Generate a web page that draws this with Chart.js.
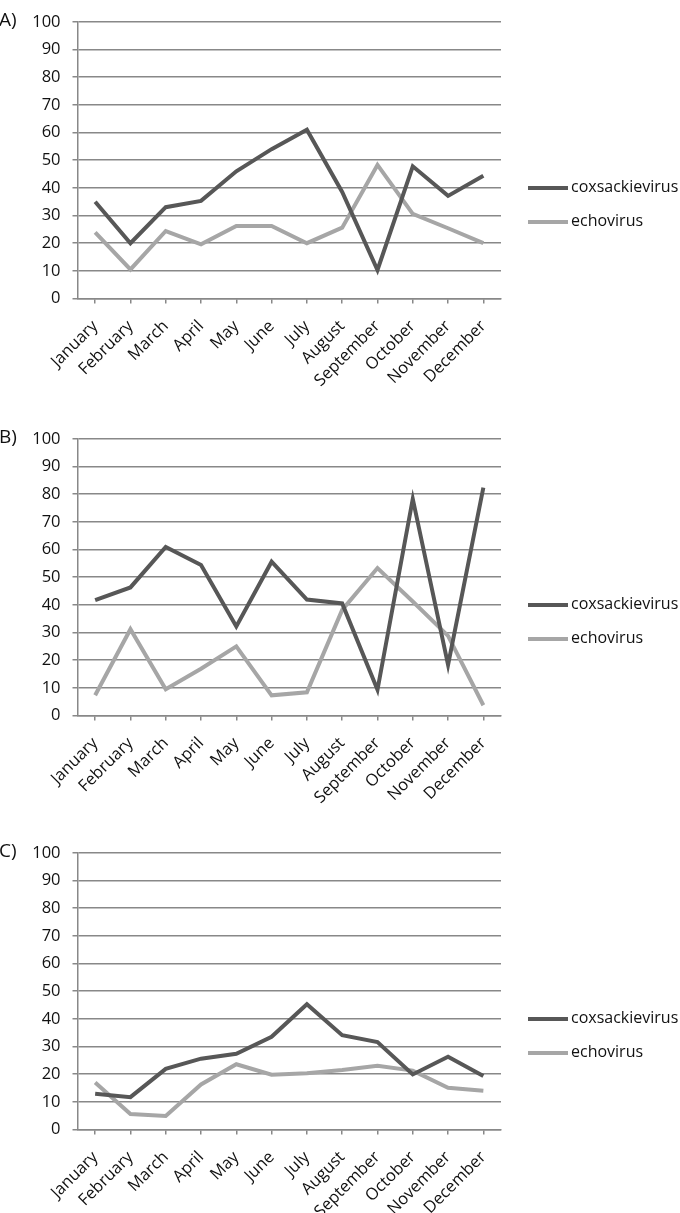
<!DOCTYPE html>
<html>
<head>
<meta charset="utf-8">
<script src="https://cdn.jsdelivr.net/npm/chart.js@4.4.0/dist/chart.umd.min.js"></script>
<style>
    html, body { margin: 0; padding: 0; background: #fff; }
    body { width: 680px; height: 1213px; overflow: hidden; position: relative; }
    .panel { position: absolute; left: 0; width: 680px; height: 400px; }
</style>
</head>
<body>
<div class="panel" style="top:0px"><canvas id="chartA" width="680" height="400"></canvas></div>
<div class="panel" style="top:416.5px"><canvas id="chartB" width="680" height="400"></canvas></div>
<div class="panel" style="top:830.5px"><canvas id="chartC" width="680" height="400"></canvas></div>
<script>
const months = ['January', 'February', 'March', 'April', 'May', 'June', 'July',
    'August', 'September', 'October', 'November', 'December'];
const seriesNames = ['coxsackievirus', 'echovirus'];
const panelLabels = ['A)', 'B)', 'C)'];

// values (percent)
const coxA = [35, 20, 33, 35.3, 46, 54, 61, 38.5, 10.3, 47.8, 37.1, 44.4];
const echoA = [23.9, 10.5, 24.4, 19.6, 26.2, 26.2, 20, 25.6, 48.3, 30.6, 25.4, 20];
const coxB = [41.7, 46.3, 60.9, 54.4, 32.2, 55.6, 41.9, 40.5, 9.3, 78.3, 18.3, 82.4];
const echoB = [7.3, 31.2, 9.5, 16.9, 25, 7.3, 8.4, 38.2, 53.3, 41.2, 28.8, 3.7];
const coxC = [12.9, 11.7, 21.9, 25.6, 27.4, 33.5, 45.3, 34.1, 31.6, 19.9, 26.3, 19.3];
const echoC = [17, 5.6, 4.9, 16.3, 23.6, 19.8, 20.3, 21.5, 23, 21.3, 15.1, 14];

const darkColor = '#575757';
const lightColor = '#a6a6a6';
const gridColor = '#888888';
const textColor = '#111111';
const fontFamily = "'Open Sans', 'DejaVu Sans', sans-serif";

// draws the "A)" label and the legend on the right
const sideTextPlugin = {
    id: 'sideText',
    afterDraw(chart, args, opts) {
        const ctx = chart.ctx;
        const top = chart.chartArea.top;
        ctx.save();
        ctx.fillStyle = textColor;
        ctx.font = `19px ${fontFamily}`;
        ctx.textBaseline = 'middle';
        ctx.textAlign = 'left';
        ctx.fillText(opts.label, -1, top - 1);

        chart.data.datasets.forEach((ds, i) => {
            const y = top + 166 + i * 34;
            ctx.strokeStyle = ds.borderColor;
            ctx.lineWidth = 4;
            ctx.beginPath();
            ctx.moveTo(528, y);
            ctx.lineTo(568, y);
            ctx.stroke();
            ctx.fillStyle = textColor;
            ctx.font = `16px ${fontFamily}`;
            ctx.fillText(ds.label, 571, y);
        });
        ctx.restore();
    }
};

function makePanel(canvasId, label, cox, echo) {
    return new Chart(document.getElementById(canvasId), {
        type: 'line',
        data: {
            labels: months,
            datasets: [
                { label: seriesNames[0], data: cox, borderColor: darkColor, borderWidth: 4 },
                { label: seriesNames[1], data: echo, borderColor: lightColor, borderWidth: 4 }
            ]
        },
        options: {
            responsive: false,
            animation: false,
            elements: {
                point: { radius: 0 },
                line: { tension: 0, borderCapStyle: 'butt', borderJoinStyle: 'miter' }
            },
            layout: { padding: { top: 12, left: 0, right: 179, bottom: 0 } },
            plugins: {
                legend: { display: false },
                tooltip: { enabled: false },
                sideText: { label: label }
            },
            scales: {
                x: {
                    offset: true,
                    afterFit: (scale) => { scale.height = 101.5; },
                    grid: {
                        drawOnChartArea: false,
                        drawTicks: true,
                        tickLength: 5,
                        color: gridColor,
                        lineWidth: 1.5
                    },
                    border: { display: true, color: gridColor, width: 1.5 },
                    ticks: {
                        autoSkip: false,
                        minRotation: 45,
                        maxRotation: 45,
                        padding: 13,
                        color: textColor,
                        font: { family: fontFamily, size: 16.5 }
                    }
                },
                y: {
                    min: 0,
                    max: 100,
                    afterFit: (scale) => { scale.width = 77.5; },
                    grid: {
                        color: gridColor,
                        lineWidth: 1.5,
                        tickLength: 5
                    },
                    border: { display: true, color: gridColor, width: 1.5 },
                    ticks: {
                        stepSize: 10,
                        padding: 12,
                        color: textColor,
                        font: { family: fontFamily, size: 16.5 }
                    }
                }
            }
        },
        plugins: [sideTextPlugin]
    });
}

makePanel('chartA', panelLabels[0], coxA, echoA);
makePanel('chartB', panelLabels[1], coxB, echoB);
makePanel('chartC', panelLabels[2], coxC, echoC);
</script>
</body>
</html>
